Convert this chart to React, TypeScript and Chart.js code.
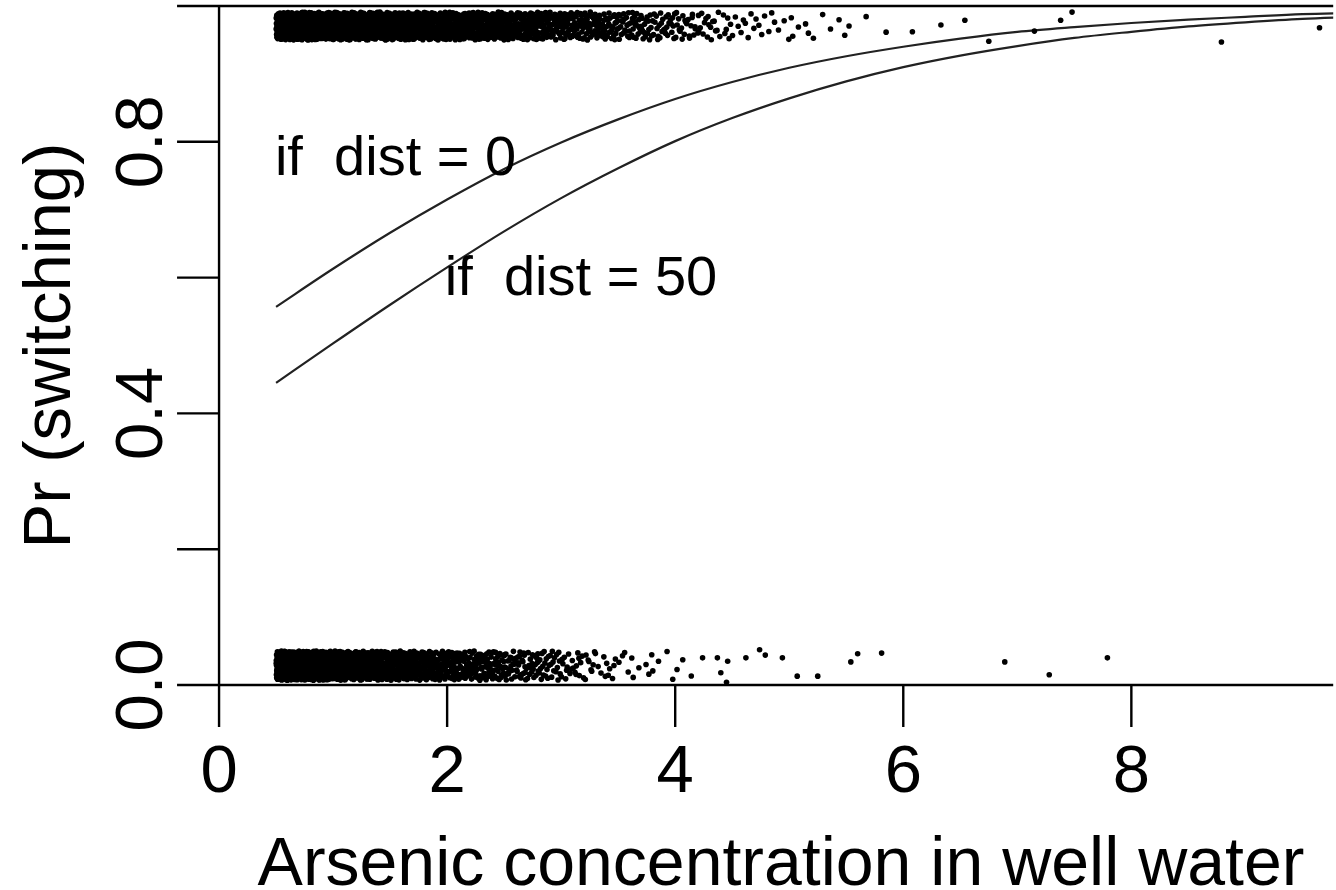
import React, { useEffect, useRef } from "react";
import { Chart, registerables } from "chart.js";

Chart.register(...registerables);

// ---- fitted curves ----
const curveArsenic = [0.5, 1.0, 1.5, 2.0, 2.5, 3.0, 3.5, 4.0, 4.5, 5.0, 5.5, 6.0, 6.5, 7.0, 7.5, 8.0, 8.5, 9.0, 9.5, 10.0];
const probDist0 = [0.557, 0.613, 0.666, 0.715, 0.760, 0.799, 0.833, 0.863, 0.888, 0.909, 0.926, 0.940, 0.952, 0.962, 0.969, 0.975, 0.980, 0.984, 0.988, 0.990];
const probDist50 = [0.445, 0.503, 0.560, 0.615, 0.668, 0.717, 0.761, 0.801, 0.835, 0.864, 0.889, 0.910, 0.927, 0.941, 0.953, 0.962, 0.970, 0.976, 0.981, 0.984];

// ---- jittered data: counts of wells per 0.1-wide arsenic bin, starting at 0.5 ----
const binStart = 0.5;
const binWidth = 0.1;
const switchedCounts = [
  75, 85, 85, 80, 75, 72, 70, 68, 64, 62,
  62, 58, 55, 52, 49, 46, 44, 42, 40, 38,
  36, 34, 32, 30, 29, 27, 25, 23, 22, 21,
  19, 18, 16, 15, 14, 12, 11, 10, 8, 6,
  5, 4, 4, 3, 3, 3, 2, 2, 1, 2,
  1, 1, 0, 1,
];
const stayedCounts = [
  115, 120, 108, 95, 85, 75, 66, 58, 52, 46,
  42, 40, 37, 35, 33, 32, 30, 28, 26, 24,
  22, 20, 18, 16, 14, 11, 10, 8, 6, 5,
  4, 3, 3, 2, 2, 2, 1,
];
// isolated high-arsenic wells (x = arsenic, y = jittered outcome)
const switchedSparseX = [6.08, 6.33, 6.54, 6.75, 7.15, 7.38, 7.48, 8.79, 9.65];
const switchedSparseY = [0.962, 0.972, 0.979, 0.948, 0.963, 0.979, 0.991, 0.947, 0.968];
const stayedSparseX = [4.24, 4.37, 4.40, 4.45, 4.46, 4.62, 4.74, 4.79, 4.94, 5.07, 5.25, 5.54, 5.60, 5.81, 6.89, 7.28, 7.79];
const stayedSparseY = [0.040, 0.040, 0.018, 0.004, 0.035, 0.040, 0.052, 0.044, 0.040, 0.013, 0.013, 0.034, 0.046, 0.047, 0.034, 0.015, 0.040];

// ---- axes ----
const xTicks = [0, 2, 4, 6, 8];
const xTickLabels = ["0", "2", "4", "6", "8"];
const yTicks = [0, 0.2, 0.4, 0.6, 0.8, 1.0];
const yTickLabels = ["0.0", "", "0.4", "", "0.8", ""];
const xTitle = "Arsenic concentration in well water";
const yTitle = "Pr (switching)";
const annotationTexts = ["if  dist = 0", "if  dist = 50"];
const annotationX = [0.49, 1.98];
const annotationY = [0.751, 0.574];

function halton(i: number, b: number): number {
  let f = 1;
  let r = 0;
  let n = i;
  while (n > 0) {
    f /= b;
    r += f * (n % b);
    n = Math.floor(n / b);
  }
  return r;
}

function bandPoints(counts: number[], sx: number[], sy: number[], yLo: number, yHi: number, seed: number) {
  const pts: { x: number; y: number }[] = [];
  let g = seed;
  counts.forEach((n, i) => {
    for (let k = 0; k < n; k++) {
      g++;
      pts.push({ x: binStart + binWidth * (i + halton(g, 2)), y: yLo + (yHi - yLo) * halton(g, 3) });
    }
  });
  sx.forEach((x, i) => pts.push({ x, y: sy[i] }));
  return pts;
}

const FONT = '"Liberation Sans", Arial, sans-serif';

const rAxesPlugin = {
  id: "rAxes",
  afterDatasetsDraw(chart: any) {
    const { ctx, chartArea, scales } = chart;
    const xs = scales.x;
    const ys = scales.y;
    const x0 = xs.getPixelForValue(0);
    const yBot = ys.getPixelForValue(0);
    const yTop = ys.getPixelForValue(1);
    const tick = 42;
    ctx.save();
    ctx.strokeStyle = "#000";
    ctx.fillStyle = "#000";
    ctx.lineWidth = 2.4;
    ctx.beginPath();
    ctx.moveTo(chartArea.left, yBot);
    ctx.lineTo(chartArea.right, yBot);
    ctx.moveTo(chartArea.left, yTop);
    ctx.lineTo(chartArea.right, yTop);
    ctx.moveTo(x0, yTop);
    ctx.lineTo(x0, yBot + tick);
    yTicks.forEach((v) => {
      const p = ys.getPixelForValue(v);
      ctx.moveTo(x0 - tick, p);
      ctx.lineTo(x0, p);
    });
    xTicks.forEach((v) => {
      const p = xs.getPixelForValue(v);
      ctx.moveTo(p, yBot);
      ctx.lineTo(p, yBot + tick);
    });
    ctx.stroke();

    // x tick labels
    ctx.font = `67px ${FONT}`;
    ctx.textAlign = "center";
    ctx.textBaseline = "alphabetic";
    xTicks.forEach((v, i) => {
      ctx.fillText(xTickLabels[i], xs.getPixelForValue(v), yBot + 107);
    });
    // y tick labels (rotated)
    yTicks.forEach((v, i) => {
      if (!yTickLabels[i]) return;
      ctx.save();
      ctx.translate(x0 - 57, ys.getPixelForValue(v));
      ctx.rotate(-Math.PI / 2);
      ctx.fillText(yTickLabels[i], 0, 0);
      ctx.restore();
    });
    // axis titles
    ctx.font = `68px ${FONT}`;
    ctx.fillText(xTitle, 781, yBot + 200);
    ctx.font = `67px ${FONT}`;
    ctx.save();
    ctx.translate(70, ys.getPixelForValue(0.5));
    ctx.rotate(-Math.PI / 2);
    ctx.fillText(yTitle, 0, 0);
    ctx.restore();

    // annotations
    ctx.font = `56px ${FONT}`;
    ctx.textAlign = "left";
    annotationTexts.forEach((t, i) => {
      ctx.fillText(t, xs.getPixelForValue(annotationX[i]), ys.getPixelForValue(annotationY[i]));
    });
    ctx.restore();
  },
};

export default function App() {
  const ref = useRef<HTMLCanvasElement | null>(null);
  useEffect(() => {
    if (!ref.current) return;
    const topPts = bandPoints(switchedCounts, switchedSparseX, switchedSparseY, 0.95, 0.991, 0);
    const botPts = bandPoints(stayedCounts, stayedSparseX, stayedSparseY, 0.007, 0.05, 5000);
    const pointStyle = {
      showLine: false,
      pointRadius: 2.8,
      pointBorderWidth: 0,
      pointBackgroundColor: "#000",
      pointHoverRadius: 0,
    };
    const chart = new Chart(ref.current, {
      type: "scatter",
      data: {
        datasets: [
          { label: "switched", data: topPts, ...pointStyle },
          { label: "stayed", data: botPts, ...pointStyle },
          {
            label: "dist = 0",
            data: curveArsenic.map((x, i) => ({ x, y: probDist0[i] })),
            showLine: true,
            pointRadius: 0,
            borderColor: "#222",
            borderWidth: 2.2,
            cubicInterpolationMode: "monotone",
          },
          {
            label: "dist = 50",
            data: curveArsenic.map((x, i) => ({ x, y: probDist50[i] })),
            showLine: true,
            pointRadius: 0,
            borderColor: "#222",
            borderWidth: 2.2,
            cubicInterpolationMode: "monotone",
          },
        ],
      },
      options: {
        responsive: false,
        animation: false,
        events: [],
        layout: { padding: { left: 178, top: 6, right: 0, bottom: 205 } },
        plugins: { legend: { display: false }, tooltip: { enabled: false } },
        scales: {
          x: { type: "linear", min: -0.36, max: 9.77, display: false },
          y: { type: "linear", min: 0, max: 1, display: false },
        },
      },
      plugins: [rAxesPlugin],
    } as any);
    return () => chart.destroy();
  }, []);
  return (
    <div style={{ position: "fixed", left: 0, top: 0, width: 1336, height: 890, background: "#fff" }}>
      <canvas ref={ref} width={1336} height={890} style={{ width: 1336, height: 890, display: "block" }} />
    </div>
  );
}
